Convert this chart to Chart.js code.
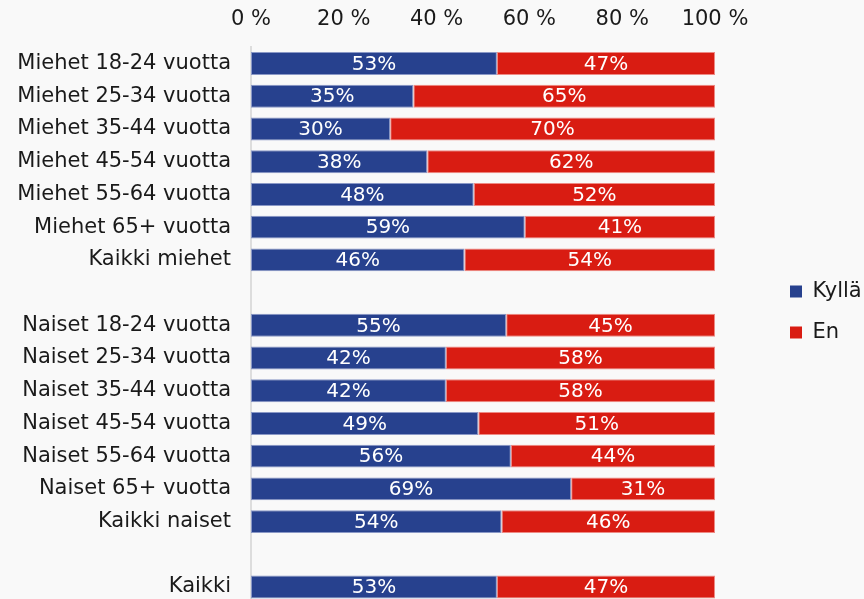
<!DOCTYPE html>
<html>
<head>
<meta charset="utf-8">
<script src="https://cdn.jsdelivr.net/npm/chart.js@4/dist/chart.umd.min.js"></script>
<style>
  html, body { margin: 0; padding: 0; background: #f9f9f9; overflow: hidden; }
  #wrap { position: relative; width: 864px; height: 618px; }
</style>
</head>
<body>
<div id="wrap"><canvas id="c"></canvas></div>
<script>
const categories = [
  'Miehet 18-24 vuotta', 'Miehet 25-34 vuotta', 'Miehet 35-44 vuotta', 'Miehet 45-54 vuotta',
  'Miehet 55-64 vuotta', 'Miehet 65+ vuotta', 'Kaikki miehet', '',
  'Naiset 18-24 vuotta', 'Naiset 25-34 vuotta', 'Naiset 35-44 vuotta', 'Naiset 45-54 vuotta',
  'Naiset 55-64 vuotta', 'Naiset 65+ vuotta', 'Kaikki naiset', '',
  'Kaikki'
];
const kylla = [53, 35, 30, 38, 48, 59, 46, null, 55, 42, 42, 49, 56, 69, 54, null, 53];
const en    = [47, 65, 70, 62, 52, 41, 54, null, 45, 58, 58, 51, 44, 31, 46, null, 47];
const seriesNames = ['Kyllä', 'En'];
const xTickValues = [0, 20, 40, 60, 80, 100];

const FONT = 'DejaVu Sans';
const LEGEND_PAD = 20;

const barLabels = {
  id: 'barLabels',
  afterDatasetsDraw(chart) {
    const ctx = chart.ctx;
    ctx.save();
    ctx.font = '20px "' + FONT + '"';
    ctx.fillStyle = '#ffffff';
    ctx.textAlign = 'center';
    ctx.textBaseline = 'middle';
    chart.data.datasets.forEach((ds, di) => {
      const meta = chart.getDatasetMeta(di);
      meta.data.forEach((el, i) => {
        const v = ds.data[i];
        if (v === null || v === undefined) return;
        const cx = (el.x + el.base) / 2;
        ctx.fillText(v + '%', cx, el.y + 1);
      });
    });
    ctx.restore();
  }
};

// Reserve room on the right for the legend and place it like the reference
const legendPlace = {
  id: 'legendPlace',
  beforeLayout(chart) {
    const lg = chart.legend;
    if (lg && !lg._patched) {
      const orig = lg.fit;
      lg.fit = function () { orig.call(this); this.width = 864 - 715; };
      lg._patched = true;
    }
  },
  afterLayout(chart) {
    const lg = chart.legend;
    const dx = (790 - LEGEND_PAD) - lg.left;
    lg.left += dx; lg.right += dx;
    lg.top += 7; lg.bottom += 7;
  }
};

new Chart(document.getElementById('c'), {
  type: 'bar',
  data: {
    labels: categories,
    datasets: [
      { label: seriesNames[0], data: kylla, backgroundColor: '#27418e', borderColor: '#8a98c6', borderWidth: 1, borderSkipped: false },
      { label: seriesNames[1], data: en, backgroundColor: '#d91c12', borderColor: '#ee8a84', borderWidth: 1, borderSkipped: false }
    ]
  },
  options: {
    indexAxis: 'y',
    responsive: true,
    maintainAspectRatio: false,
    animation: false,
    events: [],
    datasets: { bar: { barPercentage: 0.7, categoryPercentage: 1.0 } },
    layout: { padding: { top: -8, right: 0, left: 0, bottom: 0 } },
    scales: {
      x: {
        position: 'top',
        stacked: true,
        min: 0, max: 100,
        afterBuildTicks(scale) { scale.ticks = xTickValues.map(v => ({ value: v })); },
        grid: { display: false, drawTicks: false },
        border: { display: false },
        ticks: {
          padding: 15,
          minRotation: 0,
          maxRotation: 0,
          color: '#1a1a1a',
          font: { family: FONT, size: 21 },
          callback: v => v + ' %'
        }
      },
      y: {
        stacked: true,
        afterFit(scale) { scale.width = 251; },
        grid: { display: false, drawTicks: true, tickLength: 18 },
        border: { display: true, color: '#dddddd', width: 2 },
        ticks: {
          padding: 2,
          color: '#1a1a1a',
          font: { family: FONT, size: 21 }
        }
      }
    },
    plugins: {
      tooltip: { enabled: false },
      legend: {
        position: 'right',
        labels: {
          color: '#1a1a1a',
          font: { family: FONT, size: 21 },
          boxWidth: 12,
          boxHeight: 12,
          padding: LEGEND_PAD,
          generateLabels(chart) {
            return chart.data.datasets.map((ds, i) => ({
              text: ds.label,
              fillStyle: ds.backgroundColor,
              strokeStyle: ds.backgroundColor,
              lineWidth: 0,
              fontColor: '#1a1a1a',
              datasetIndex: i
            }));
          }
        }
      }
    }
  },
  plugins: [legendPlace, barLabels]
});
</script>
</body>
</html>
